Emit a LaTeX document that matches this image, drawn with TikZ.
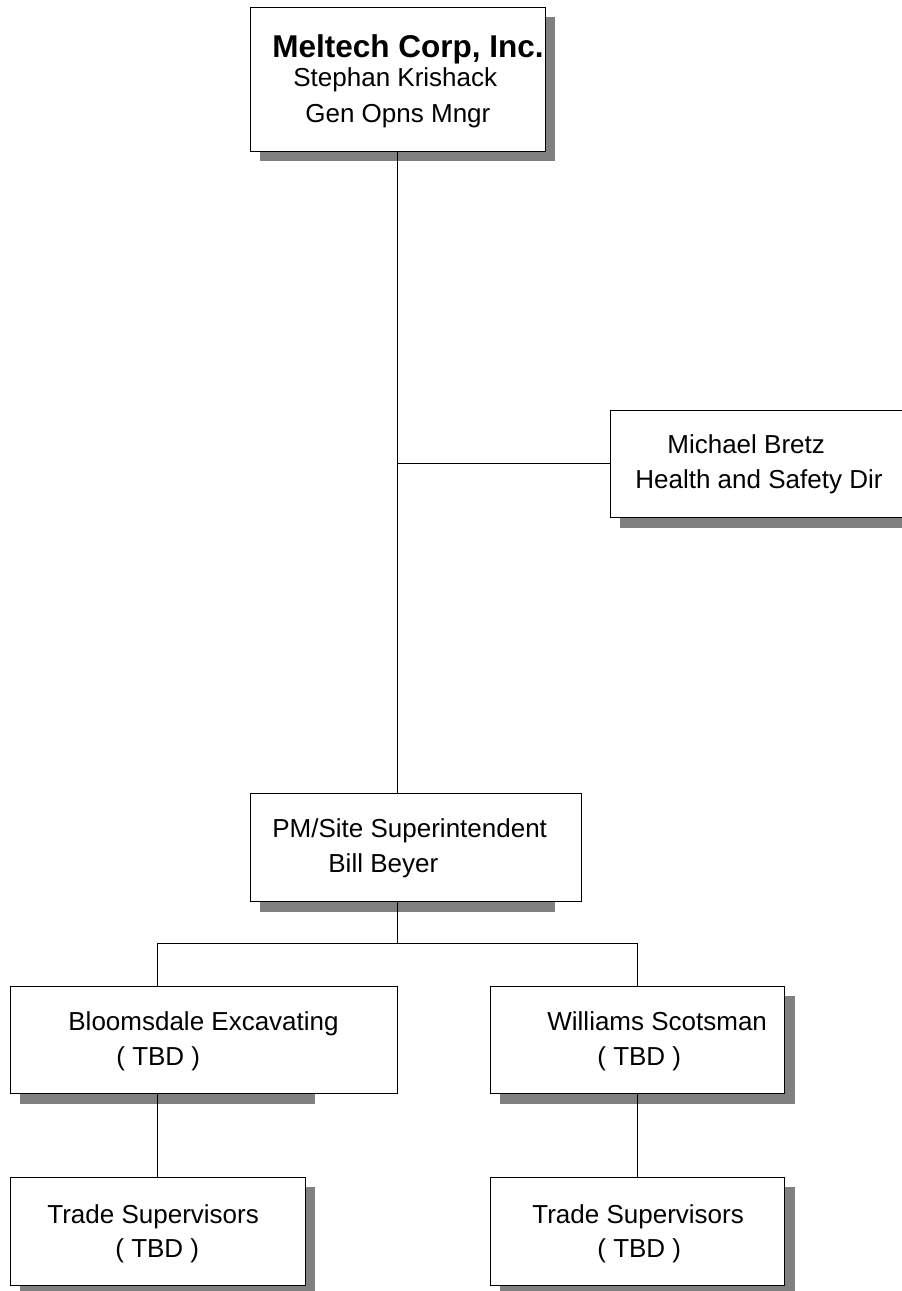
\documentclass[tikz,border=0pt]{standalone}
\usepackage{fontspec}
\setmainfont{Liberation Sans}
\definecolor{orgshadow}{RGB}{128,128,128}
\begin{document}
\begin{tikzpicture}[x=1pt,y=-1pt,line width=0.8pt,
    orgbox/.style={draw=black,fill=white,rectangle,inner sep=0pt,outer sep=0pt},
    orgtext/.style={anchor=base west,inner sep=0pt,font=\fontsize{26}{30}\selectfont},
    orgtitle/.style={orgtext,font=\fontsize{31.5}{36}\selectfont\bfseries}]
    \useasboundingbox (0,0) rectangle (902,1291);
    \clip (0,0) rectangle (902,1291);
    \fill[orgshadow] (260,17) rectangle (555,161);
    \fill[orgshadow] (620,517) rectangle (912,528);
    \fill[orgshadow] (260,901) rectangle (555,912);
    \fill[orgshadow] (20,1093) rectangle (315,1104);
    \fill[orgshadow] (500,996) rectangle (795,1104);
    \fill[orgshadow] (20,1187) rectangle (315,1295);
    \fill[orgshadow] (500,1187) rectangle (795,1295);
    \node[orgbox,minimum width=295,minimum height=144] (meltech) at (397.5,79) {};
    \node[orgbox,minimum width=302,minimum height=107] (bretz) at (761,463.5) {};
    \node[orgbox,minimum width=331,minimum height=108] (super) at (415.5,847) {};
    \node[orgbox,minimum width=387,minimum height=107] (bloom) at (203.5,1039.5) {};
    \node[orgbox,minimum width=294,minimum height=107] (scots) at (637,1039.5) {};
    \node[orgbox,minimum width=295,minimum height=108] (tradeL) at (157.5,1231) {};
    \node[orgbox,minimum width=294,minimum height=108] (tradeR) at (637,1231) {};
    \node[orgtitle] (meltech-a) at (272,57) {Meltech Corp, Inc.};
    \node[orgtext] (meltech-b) at (293,86) {Stephan Krishack};
    \node[orgtext] (meltech-c) at (305,122) {Gen Opns Mngr};
    \node[orgtext] (bretz-a) at (667,453) {Michael Bretz};
    \node[orgtext] (bretz-b) at (635,488) {Health and Safety Dir};
    \node[orgtext] (super-a) at (272,837) {PM/Site Superintendent};
    \node[orgtext] (super-b) at (328,872) {Bill Beyer};
    \node[orgtext] (bloom-a) at (68,1030) {Bloomsdale Excavating};
    \node[orgtext] (bloom-b) at (116,1065) {( TBD )};
    \node[orgtext] (scots-a) at (547,1030) {Williams Scotsman};
    \node[orgtext] (scots-b) at (597,1065) {( TBD )};
    \node[orgtext] (tradeL-a) at (47,1223) {Trade Supervisors};
    \node[orgtext] (tradeL-b) at (115,1257) {( TBD )};
    \node[orgtext] (tradeR-a) at (532,1223) {Trade Supervisors};
    \node[orgtext] (tradeR-b) at (597,1257) {( TBD )};
    \coordinate (fork) at (397.5,943);
    \draw (meltech.south) -- (meltech.south |- super.north);
    \draw (bretz.west) -- (bretz.west -| meltech.south);
    \draw (meltech.south |- super.south) -- (fork);
    \draw (tradeL.north |- bloom.north) |- (fork) -| (scots.north);
    \draw (tradeL.north |- bloom.south) -- (tradeL.north);
    \draw (scots.south) -- (tradeR.north);
  \end{tikzpicture}
\end{document}
